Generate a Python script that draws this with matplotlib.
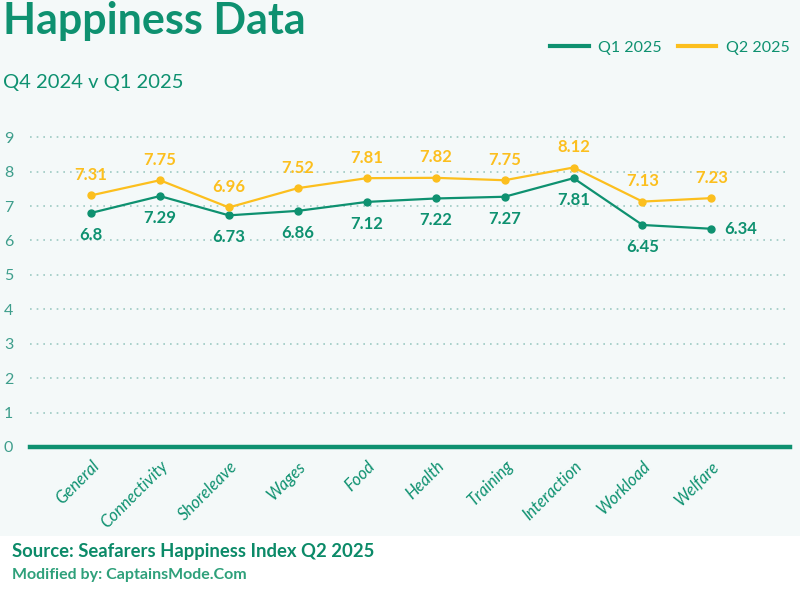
import matplotlib
matplotlib.use("Agg")
import matplotlib.pyplot as plt
from matplotlib.patches import Rectangle

plt.rcParams['font.family'] = ['Lato', 'DejaVu Sans']

categories = ["General", "Connectivity", "Shoreleave", "Wages", "Food",
              "Health", "Training", "Interaction", "Workload", "Welfare"]
q1_2025 = [6.8, 7.29, 6.73, 6.86, 7.12, 7.22, 7.27, 7.81, 6.45, 6.34]
q2_2025 = [7.31, 7.75, 6.96, 7.52, 7.81, 7.82, 7.75, 8.12, 7.13, 7.23]
yticks = list(range(0, 10))

GREEN = "#0e9170"
YELLOW = "#fcbf1e"
BG = "#f4f9f9"

fig = plt.figure(figsize=(8, 5.9), dpi=100)
fig.patch.set_facecolor("white")
fig.patches.append(Rectangle((0, 1 - 536 / 590), 1, 536 / 590, transform=fig.transFigure,
                             facecolor=BG, edgecolor="none", zorder=-10))

ax = fig.add_axes([0.0375, 1 - 447 / 590, 0.95, (447 - 120) / 590])
ax.set_facecolor("none")
x = list(range(len(categories)))

ax.plot(x, q1_2025, color=GREEN, lw=1.6, marker="o", ms=5, zorder=3)
ax.plot(x, q2_2025, color=YELLOW, lw=1.6, marker="o", ms=5, zorder=3)

for i, v in enumerate(q2_2025):
    ax.annotate(f"{v:g}", (i, v), xytext=(0, 9), textcoords="offset points",
                ha="center", va="bottom", color=YELLOW, fontsize=12, fontweight="bold")
for i, v in enumerate(q1_2025):
    if categories[i] == "Welfare":
        ax.annotate(f"{v:g}", (i, v), xytext=(9, 0), textcoords="offset points",
                    ha="left", va="center", color=GREEN, fontsize=12, fontweight="bold")
    else:
        ax.annotate(f"{v:g}", (i, v), xytext=(0, -10), textcoords="offset points",
                    ha="center", va="top", color=GREEN, fontsize=12, fontweight="bold")

ax.set_xlim(-0.885, 10.14)
ax.set_ylim(0, 9.5)
ax.set_yticks(yticks)
for t in yticks[1:]:
    ax.axhline(t, color="#9cc9c2", lw=1.2, ls=(0, (1, 3)), zorder=1)
ax.axhline(0, color=GREEN, lw=3.2, zorder=2, clip_on=False)

ax.set_xticks(x)
ax.set_xticklabels(categories, rotation=45, ha="right", rotation_mode="anchor",
                   color=GREEN, fontsize=12, style="italic")
ax.tick_params(axis="x", length=0, pad=8)
ax.tick_params(axis="y", length=0, labelcolor="#3e9e8c", labelsize=11.5, pad=12)
for s in ax.spines.values():
    s.set_visible(False)

fig.text(0.004, 0.965, "Happiness Data", color=GREEN, fontsize=31, fontweight="bold",
         va="center", ha="left")
fig.text(0.004, 0.861, "Q4 2024 v Q1 2025", color=GREEN, fontsize=14.5,
         va="center", ha="left")

ax.plot([], [], color=GREEN, lw=3, label="Q1 2025")
ax.plot([], [], color=YELLOW, lw=3, label="Q2 2025")
handles, labels = ax.get_legend_handles_labels()
leg = fig.legend(handles[-2:], labels[-2:], loc="center right", bbox_to_anchor=(1.005, 0.919),
                 ncol=2, frameon=False, fontsize=11.5, handlelength=2.4, columnspacing=1.0,
                 handletextpad=0.6)
for t in leg.get_texts():
    t.set_color(GREEN)

fig.text(0.015, 0.066, "Source: Seafarers Happiness Index Q2 2025", color="#0b8a68",
         fontsize=13.3, fontweight="bold", va="center", ha="left")
fig.text(0.015, 0.025, "Modified by: CaptainsMode.Com", color="#2ea07a",
         fontsize=11.5, fontweight="bold", va="center", ha="left")

fig.savefig("out.png", dpi=100, facecolor=fig.get_facecolor())
